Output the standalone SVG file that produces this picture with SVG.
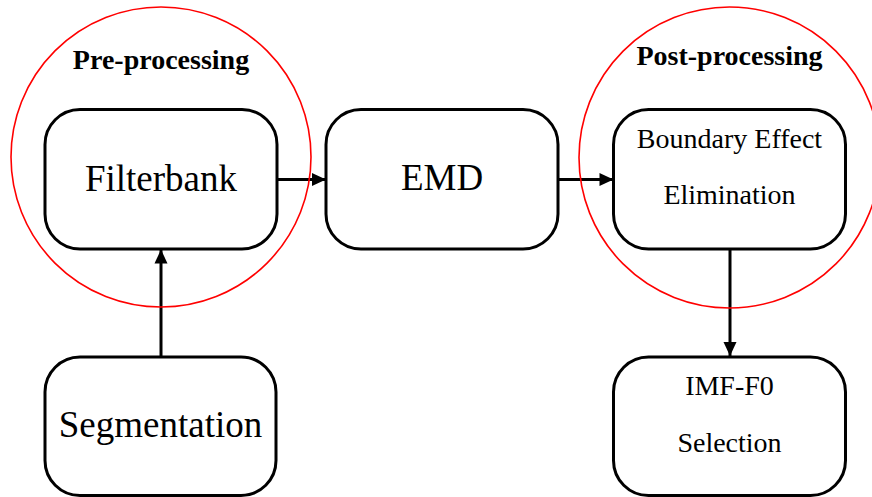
<svg xmlns="http://www.w3.org/2000/svg" width="872" height="497" viewBox="0 0 872 497">
<style>
.box{fill:#fff;stroke:#000;stroke-width:3}
.t{font-family:"Liberation Serif","Times New Roman",serif;fill:#000;text-anchor:middle}
.big{font-size:37px}
.mid{font-size:28px}
.hdr{font-size:28px;font-weight:bold}
.con{stroke:#000;stroke-width:3;fill:none}
.ring{fill:none;stroke:#ff0000;stroke-width:1.6}
</style>
<defs>
<marker id="ah" markerUnits="userSpaceOnUse" markerWidth="16" markerHeight="14" refX="15" refY="7" orient="auto">
<path d="M1,0.5 L15,7 L1,13.5 Z" fill="#000"/>
</marker>
</defs>
<rect width="872" height="497" fill="#fff"/>
<g id="filterbank">
<rect class="box" x="45" y="109.5" width="232" height="139.5" rx="35" ry="35"/>
<text class="t big" x="161" y="191">Filterbank</text>
</g>
<g id="emd">
<rect class="box" x="326" y="109.5" width="232" height="139.5" rx="35" ry="35"/>
<text class="t big" x="442" y="190">EMD</text>
</g>
<g id="boundary">
<rect class="box" x="613.5" y="109.5" width="232" height="139.5" rx="35" ry="35"/>
<text class="t mid" x="729.5" y="148">Boundary Effect</text>
<text class="t mid" x="729.5" y="204">Elimination</text>
</g>
<g id="segmentation">
<rect class="box" x="45" y="357" width="231" height="138.5" rx="35" ry="35"/>
<text class="t big" x="160.5" y="437">Segmentation</text>
</g>
<g id="imf">
<rect class="box" x="613.5" y="357" width="232" height="138.5" rx="35" ry="35"/>
<text class="t mid" x="729.5" y="395">IMF-F0</text>
<text class="t mid" x="729.5" y="452">Selection</text>
</g>
<g id="connectors">
<line class="con" x1="277" y1="179.5" x2="326" y2="179.5" marker-end="url(#ah)"/>
<line class="con" x1="558" y1="179.5" x2="613.5" y2="179.5" marker-end="url(#ah)"/>
<line class="con" x1="161" y1="357" x2="161" y2="249.5" marker-end="url(#ah)"/>
<line class="con" x1="730" y1="249" x2="730" y2="356" marker-end="url(#ah)"/>
</g>
<g id="pre-processing">
<circle class="ring" cx="161" cy="157" r="150"/>
<text class="t hdr" x="161" y="69">Pre-processing</text>
</g>
<g id="post-processing">
<circle class="ring" cx="729.5" cy="157.5" r="150.5"/>
<text class="t hdr" x="729.5" y="65">Post-processing</text>
</g>
</svg>
